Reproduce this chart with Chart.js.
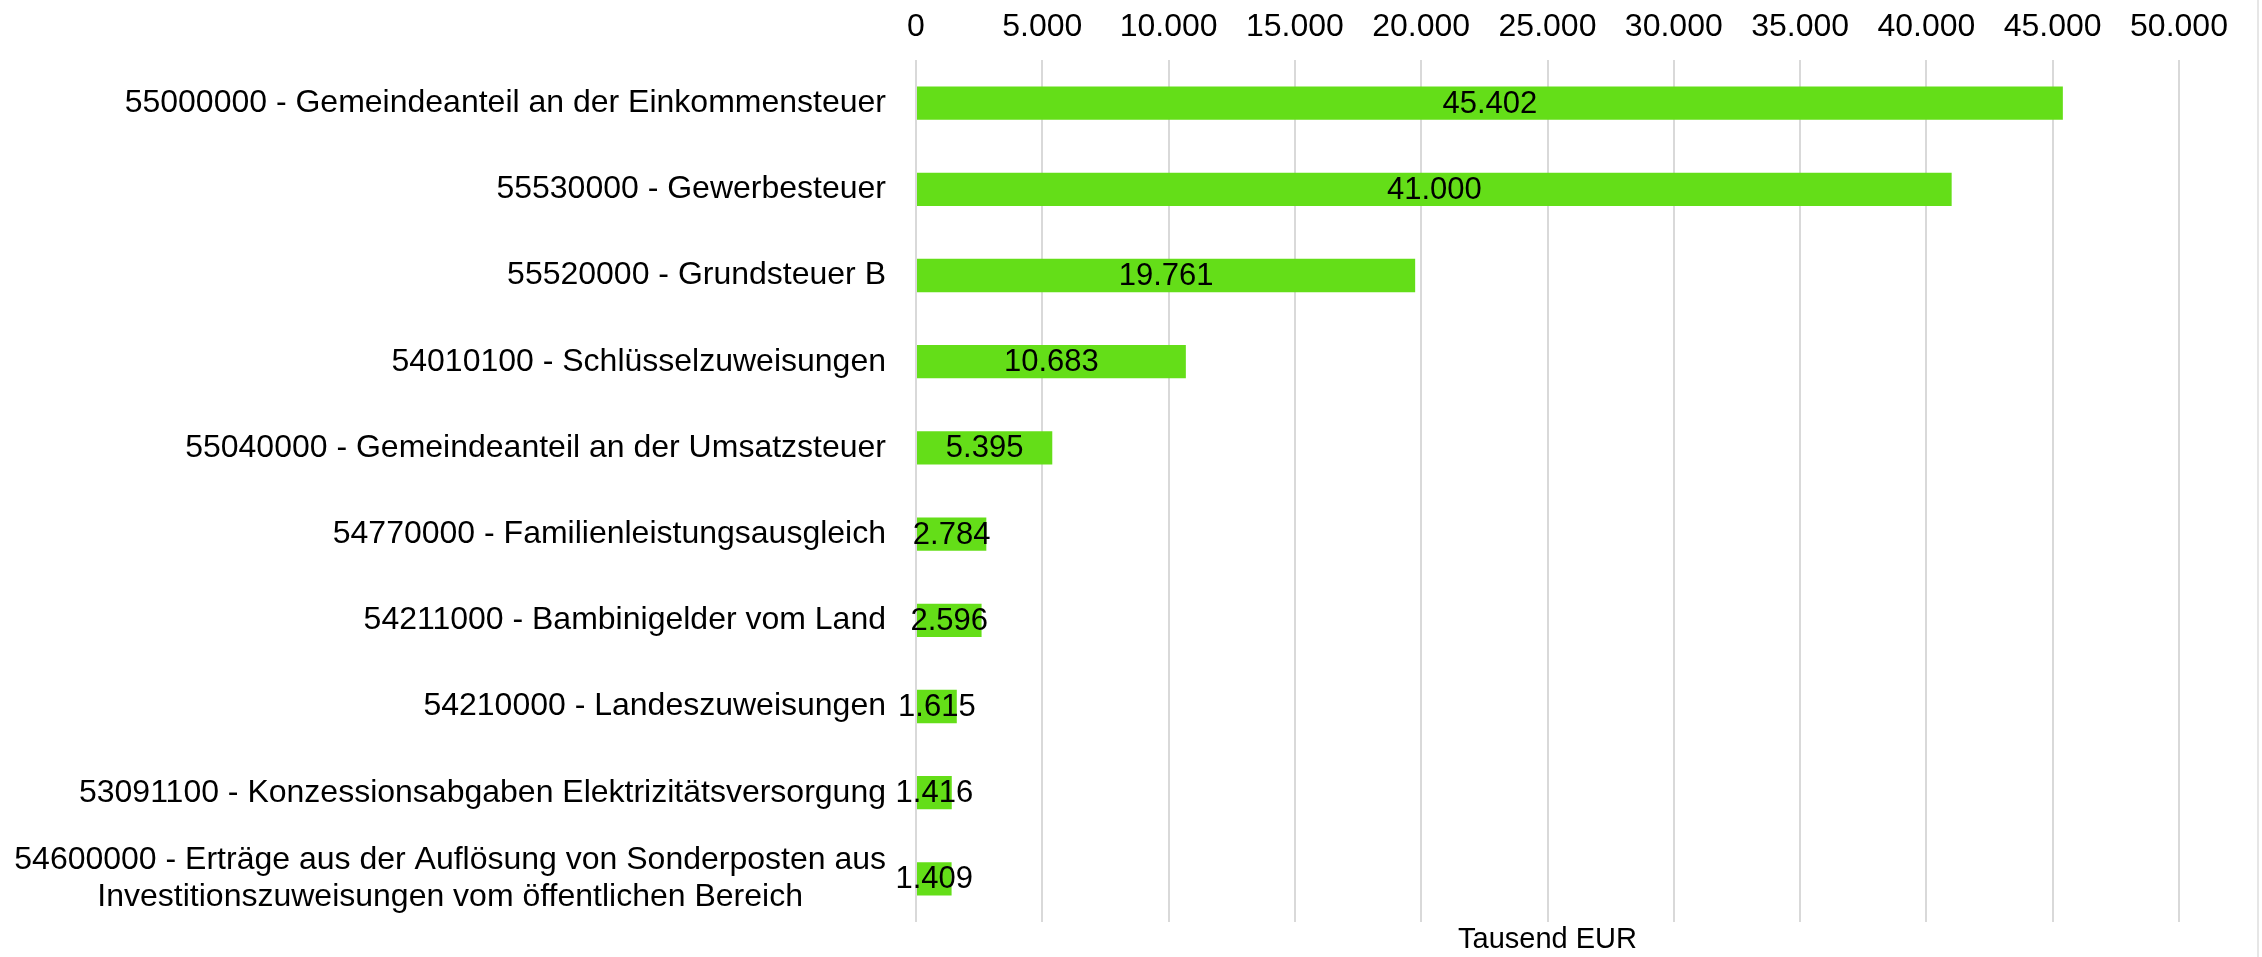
<!DOCTYPE html>
<html>
<head>
<meta charset="utf-8">
<script src="https://cdn.jsdelivr.net/npm/chart.js@4.4.1/dist/chart.umd.min.js"></script>
<style>
  html, body { margin: 0; padding: 0; background: #fff; }
</style>
</head>
<body>
<canvas id="chart" width="2262" height="957"></canvas>
<script>
const categories = [
    ['55000000 - Gemeindeanteil an der Einkommensteuer'],
    ['55530000 - Gewerbesteuer'],
    ['55520000 - Grundsteuer B'],
    ['54010100 - Schlüsselzuweisungen'],
    ['55040000 - Gemeindeanteil an der Umsatzsteuer'],
    ['54770000 - Familienleistungsausgleich'],
    ['54211000 - Bambinigelder vom Land'],
    ['54210000 - Landeszuweisungen'],
    ['53091100 - Konzessionsabgaben Elektrizitätsversorgung'],
    ['54600000 - Erträge aus der Auflösung von Sonderposten aus', 'Investitionszuweisungen vom öffentlichen Bereich']
];
const values = [45402, 41000, 19761, 10683, 5395, 2784, 2596, 1615, 1416, 1409];
const axisMin = 0;
const axisMax = 50000;
const axisStep = 5000;
const axisTitle = 'Tausend EUR';

const FONT = "'Liberation Sans', Arial, sans-serif";
const fmt = v => String(Math.round(v)).replace(/\B(?=(\d{3})+(?!\d))/g, '.');

// category labels: right aligned block, multi-line labels centred inside their block
const catLabels = {
    id: 'catLabels',
    afterDraw(chart) {
        const ctx = chart.ctx;
        const y = chart.scales.y;
        const right = chart.chartArea.left - 30;
        const lh = 37;
        ctx.save();
        ctx.font = '32px ' + FONT;
        ctx.fillStyle = '#000';
        ctx.textAlign = 'center';
        ctx.textBaseline = 'middle';
        categories.forEach((lines, i) => {
            const cy = y.getPixelForTick(i);
            const w = Math.max(...lines.map(l => ctx.measureText(l).width));
            const cx = right - w / 2;
            lines.forEach((l, k) => {
                ctx.fillText(l, cx, cy + (k - (lines.length - 1) / 2) * lh);
            });
        });
        ctx.restore();
    }
};

// value labels in the middle of each bar
const valueLabels = {
    id: 'valueLabels',
    afterDatasetsDraw(chart) {
        const ctx = chart.ctx;
        const meta = chart.getDatasetMeta(0);
        ctx.save();
        ctx.font = '31px ' + FONT;
        ctx.fillStyle = '#000';
        ctx.textAlign = 'center';
        ctx.textBaseline = 'middle';
        meta.data.forEach((bar, i) => {
            ctx.fillText(fmt(values[i]), (bar.x + bar.base) / 2, bar.y + 1);
        });
        ctx.restore();
    }
};

// faint frame line on the right edge
const frameLine = {
    id: 'frameLine',
    beforeDraw(chart) {
        const ctx = chart.ctx;
        ctx.save();
        ctx.fillStyle = '#e6e6e6';
        ctx.fillRect(chart.width - 5, 0, 2, chart.height);
        ctx.restore();
    }
};

new Chart(document.getElementById('chart'), {
    type: 'bar',
    data: {
        labels: categories,
        datasets: [{
            data: values,
            backgroundColor: '#64de18',
            borderWidth: 0,
            barPercentage: 0.386,
            categoryPercentage: 1
        }]
    },
    options: {
        indexAxis: 'y',
        responsive: false,
        animation: false,
        layout: { padding: { top: 0, right: 83, bottom: 0, left: 0 } },
        plugins: {
            legend: { display: false },
            tooltip: { enabled: false }
        },
        scales: {
            x: {
                position: 'top',
                min: axisMin,
                max: axisMax,
                ticks: {
                    stepSize: axisStep,
                    color: '#000',
                    font: { family: FONT, size: 32 },
                    padding: 14,
                    maxRotation: 0,
                    callback: v => fmt(v)
                },
                grid: { color: '#d9d9d9', lineWidth: 2, drawTicks: false },
                border: { display: false },
                afterFit(scale) { scale.height = 60; }
            },
            x2: {
                type: 'linear',
                position: 'bottom',
                min: axisMin,
                max: axisMax,
                ticks: { display: false },
                grid: { display: false },
                border: { display: false },
                title: {
                    display: true,
                    text: axisTitle,
                    color: '#000',
                    font: { family: FONT, size: 29 },
                    padding: { top: 0, bottom: 0 }
                },
                afterFit(scale) { scale.height = 35; }
            },
            y: {
                ticks: { color: 'transparent', font: { family: FONT, size: 31 } },
                grid: { display: false },
                border: { display: false },
                afterFit(scale) { scale.width = 916; }
            }
        }
    },
    plugins: [frameLine, catLabels, valueLabels]
});
</script>
</body>
</html>
